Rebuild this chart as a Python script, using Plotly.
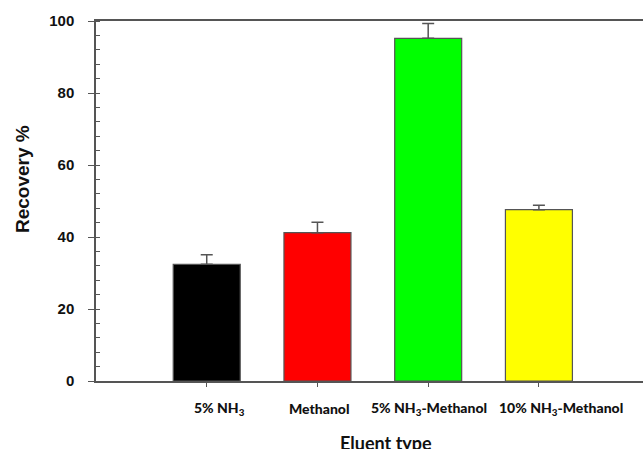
import plotly.graph_objects as go

categories = ["5% NH3", "Methanol", "5% NH3-Methanol", "10% NH3-Methanol"]
tick_labels = ["5% NH<sub>3</sub>", "Methanol", "5% NH<sub>3</sub>-Methanol", "10% NH<sub>3</sub>-Methanol"]
recovery = [32.4, 41.2, 95.2, 47.6]
errors = [2.7, 2.9, 4.1, 1.2]
colors = ["#000000", "#ff0000", "#00ff00", "#ffff00"]
label_shift = [13, 2, 1, 22]

W, H = 643, 449
L, T, B = 96, 21, 68

fig = go.Figure()
fig.add_trace(go.Bar(
    x=categories, y=recovery,
    marker=dict(color=colors, line=dict(color="#555555", width=1.2)),
    width=0.605,
    error_y=dict(type="data", array=errors, arrayminus=[0] * len(errors), symmetric=False,
                 visible=True, color="#555555", thickness=1.5, width=6),
    showlegend=False,
))

annotations = []
for c, t, s in zip(categories, tick_labels, label_shift):
    annotations.append(dict(
        x=c, xref="x", y=0, yref="paper", yshift=-27, xshift=s,
        text=t, showarrow=False, xanchor="center", yanchor="middle",
        font=dict(family="Lato", size=14, color="#111111", weight=900),
    ))
annotations.append(dict(
    x=(386 - L) / (W - L), xref="paper", y=0, yref="paper", yshift=-49,
    text="Eluent type", showarrow=False, xanchor="center", yanchor="top",
    font=dict(family="Lato", size=18, color="#111111", weight="bold"),
))
annotations.append(dict(
    x=(22 - L) / (W - L), xref="paper", y=1 - (179 - T) / (H - T - B), yref="paper",
    text="Recovery %", showarrow=False, textangle=-90, xanchor="center", yanchor="middle",
    font=dict(family="Liberation Sans", size=19, color="#111111", weight="bold"),
))

fig.update_layout(
    width=W, height=H,
    margin=dict(l=L, r=0, t=T, b=B, autoexpand=False),
    plot_bgcolor="white", paper_bgcolor="white",
    annotations=annotations,
    bargap=0.4,
)
fig.update_xaxes(
    type="category", range=[-1, 3.94],
    showline=True, linecolor="#555555", linewidth=1.5, mirror=True,
    ticks="outside", ticklen=4, tickcolor="#555555", tickwidth=1.2,
    showticklabels=False, showgrid=False, zeroline=False,
)
fig.update_yaxes(
    range=[0, 100], dtick=20,
    showline=True, linecolor="#555555", linewidth=1.5,
    ticks="outside", ticklen=6, tickcolor="#555555", tickwidth=1.2,
    minor=dict(ticks="inside", dtick=4, ticklen=4, tickcolor="#555555", tickwidth=1.2, showgrid=False),
    tickfont=dict(family="Liberation Sans", size=15, color="#111111", weight="bold"),
    ticklabelstandoff=11,
    showgrid=False, zeroline=False,
)

fig.write_html("out.html", config={"displayModeBar": False},
               post_script="document.body.style.margin='0';document.body.style.overflow='hidden';")
